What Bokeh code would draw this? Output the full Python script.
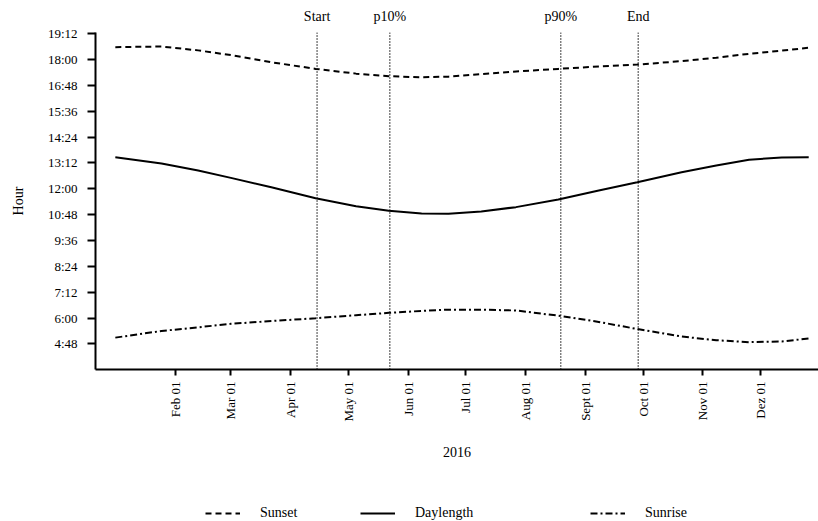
import math
from datetime import datetime
import pandas as pd
from bokeh.plotting import figure
from bokeh.layouts import column
from bokeh.models import (Range1d, FixedTicker, Legend, LegendItem, DatetimeAxis)
from bokeh.embed import file_html
from bokeh.resources import INLINE

# ---- data -------------------------------------------------------------
dates = ["2016-01-01", "2016-01-25", "2016-02-13", "2016-03-01", "2016-03-22",
         "2016-04-14", "2016-05-05", "2016-05-22", "2016-06-08", "2016-06-22",
         "2016-07-09", "2016-07-27", "2016-08-18", "2016-09-08", "2016-09-28",
         "2016-10-21", "2016-11-08", "2016-11-25", "2016-12-12", "2016-12-26"]
sunset = [18.58, 18.61, 18.43, 18.21, 17.88, 17.57, 17.35, 17.23, 17.18, 17.21,
          17.33, 17.45, 17.57, 17.68, 17.77, 17.93, 18.09, 18.27, 18.42, 18.55]
daylength = [13.47, 13.18, 12.85, 12.51, 12.07, 11.56, 11.19, 10.98, 10.85, 10.84,
             10.95, 11.15, 11.50, 11.92, 12.31, 12.77, 13.08, 13.35, 13.46, 13.47]
sunrise = [5.09, 5.40, 5.57, 5.73, 5.86, 5.99, 6.13, 6.24, 6.33, 6.39,
           6.39, 6.35, 6.11, 5.82, 5.49, 5.14, 4.97, 4.88, 4.91, 5.05]

marker_dates = ["2016-04-14 18:00", "2016-05-22 12:00", "2016-08-19 06:00", "2016-09-28 12:00"]
marker_labels = ["Start", "p10%", "p90%", "End"]

y_ticks = [4.8, 6.0, 7.2, 8.4, 9.6, 10.8, 12.0, 13.2, 14.4, 15.6, 16.8, 18.0, 19.2]
y_tick_labels = ["4:48", "6:00", "7:12", "8:24", "9:36", "10:48", "12:00",
                 "13:12", "14:24", "15:36", "16:48", "18:00", "19:12"]
x_tick_dates = ["2016-02-01", "2016-03-01", "2016-04-01", "2016-05-01", "2016-06-01",
                "2016-07-01", "2016-08-01", "2016-09-01", "2016-10-01", "2016-11-01",
                "2016-12-01"]
x_tick_labels = ["Feb 01", "Mar 01", "Apr 01", "May 01", "Jun 01", "Jul 01",
                 "Aug 01", "Sept 01", "Oct 01", "Nov 01", "Dez 01"]
legend_labels = ["Sunset", "Daylength", "Sunrise"]

# ---- derived ------------------------------------------------------------
FONT = "Liberation Serif"
dt = pd.to_datetime(dates)
md = pd.to_datetime(marker_dates)
md_ms = [int(v) for v in (md.asi8 // 10**6)]
xt_ms = [int(v) for v in (pd.to_datetime(x_tick_dates).asi8 // 10**6)]
series = [sunset, daylength, sunrise]

y0, y1 = 3.61, 19.26
styles = [dict(line_dash="6 4"), dict(line_dash="solid"), dict(line_dash="7 3 2 3")]
xr = Range1d(datetime(2015, 12, 21, 17), datetime(2016, 12, 31, 2))

p = figure(width=818, height=490, x_axis_type="datetime",
           x_range=xr, y_range=Range1d(y0, y1),
           output_backend="svg", toolbar_location=None,
           min_border_left=95, min_border_right=0, min_border_top=32,
           min_border_bottom=121)
p.outline_line_color = None
p.xgrid.visible = False
p.ygrid.visible = False
p.background_fill_color = "white"

for ys, st in zip(series, styles):
    p.line(dt, ys, line_color="black", line_width=2, **st)

p.segment(x0=md, y0=[y0] * len(md), x1=md, y1=[y1] * len(md),
          line_color="black", line_width=1.5, line_dash="1 2")

# axes
for ax in (p.xaxis[0], p.yaxis[0]):
    ax.axis_line_width = 2
    ax.axis_line_color = "black"
    ax.major_tick_line_width = 2
    ax.major_tick_line_color = "black"
    ax.major_tick_in = 0
    ax.minor_tick_line_color = None
    ax.major_label_text_font = FONT
    ax.major_label_text_font_size = "13px"
    ax.major_label_text_color = "black"
    ax.axis_label_text_font = FONT
    ax.axis_label_text_font_size = "14px"
    ax.axis_label_text_font_style = "normal"
    ax.axis_label_text_color = "black"

p.yaxis.ticker = FixedTicker(ticks=y_ticks)
p.yaxis.major_label_overrides = {t: l for t, l in zip(y_ticks, y_tick_labels)}
p.yaxis.axis_label = "Hour"
p.yaxis.major_tick_out = 8
p.yaxis.major_label_standoff = 10
p.yaxis.axis_label_standoff = 19

p.xaxis.ticker = FixedTicker(ticks=xt_ms)
p.xaxis.major_label_overrides = {t: l for t, l in zip(xt_ms, x_tick_labels)}
p.xaxis.major_label_orientation = math.pi / 2
p.xaxis.major_tick_out = 6
p.xaxis.major_label_standoff = 6
p.xaxis.axis_label = "2016"
p.xaxis.axis_label_standoff = 22

# marker names as a label-only axis above the frame
top = DatetimeAxis(ticker=FixedTicker(ticks=md_ms),
                   major_label_overrides={t: l for t, l in zip(md_ms, marker_labels)},
                   axis_line_color=None, major_tick_line_color=None,
                   minor_tick_line_color=None, major_tick_out=0, major_tick_in=0,
                   major_label_standoff=9, major_label_text_font=FONT,
                   major_label_text_font_size="14px", major_label_text_color="black")
p.add_layout(top, "above")

# legend strip below the chart (series drawn out of its visible y range)
pl = figure(width=818, height=31, x_range=xr, y_range=Range1d(0, 1),
            x_axis_location=None, y_axis_location=None,
            output_backend="svg", toolbar_location=None,
            min_border_left=95, min_border_right=0, min_border_top=0,
            min_border_bottom=0)
pl.outline_line_color = None
pl.xgrid.visible = False
pl.ygrid.visible = False
for ys, lab, st, xloc in zip(series, legend_labels, styles, (110, 265, 495)):
    r = pl.line(dt, ys, line_color="black", line_width=2, **st)
    lg = Legend(items=[LegendItem(label=lab, renderers=[r])], location=(xloc, 0),
                orientation="horizontal", padding=0, margin=0, spacing=0,
                glyph_width=35, glyph_height=16, label_height=16,
                label_standoff=20, label_text_font=FONT,
                label_text_font_size="14px", label_text_color="black",
                border_line_alpha=0, background_fill_alpha=0)
    pl.add_layout(lg, "center")

open("out.html", "w").write(file_html(column(p, pl, spacing=0), INLINE))
